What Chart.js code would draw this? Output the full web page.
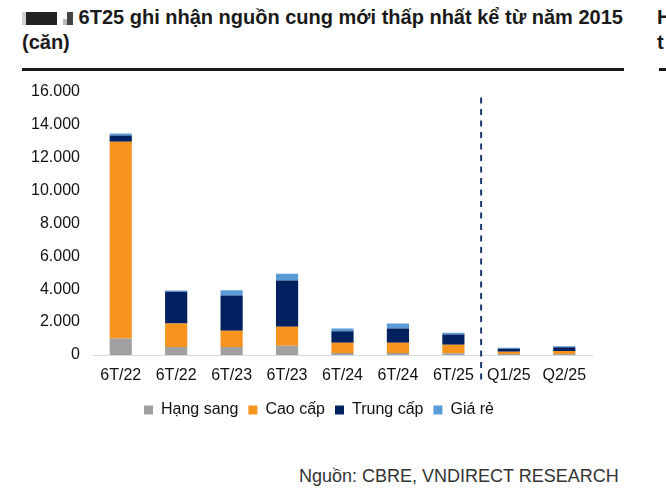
<!DOCTYPE html>
<html>
<head>
<meta charset="utf-8">
<script src="https://cdn.jsdelivr.net/npm/chart.js@4/dist/chart.umd.min.js"></script>
<style>
  body { margin: 0; background: #fff; width: 666px; height: 499px; overflow: hidden; position: relative; font-family: "Liberation Sans", Arial, sans-serif; }
  .title { position: absolute; left: 22px; top: 5px; width: 610px; font-family: "Liberation Sans Narrow", "Liberation Sans", Arial, sans-serif; font-weight: bold; font-size: 20px; line-height: 25px; color: #1a1a1a; }
  .mask { display: inline-block; vertical-align: -1px; height: 13px; }
  .rule { position: absolute; left: 22px; top: 68px; width: 602px; height: 3px; background: #1a1a1a; }
  .side { position: absolute; left: 657px; top: 5px; font-family: "Liberation Sans Narrow", "Liberation Sans", Arial, sans-serif; font-weight: bold; font-size: 20px; line-height: 25px; color: #1a1a1a; }
  .side-rule { position: absolute; left: 659px; top: 68px; width: 7px; height: 3px; background: #1a1a1a; }
  .source { position: absolute; left: 299px; top: 466px; font-size: 18px; color: #333; }
  #chartWrap { position: absolute; left: 0; top: 69px; width: 640px; height: 362px; }
</style>
</head>
<body>
<div class="title"><span class="mask" style="width:4px;background:#d0d0d0"></span><span class="mask" style="width:31px;background:#222"></span><span class="mask" style="width:6px;background:#fff"></span><span class="mask" style="width:4px;height:6px;background:#bbb"></span><span class="mask" style="width:6px;background:#444"></span> 6T25 ghi nhận nguồn cung mới thấp nhất kể từ năm 2015<br>(căn)</div>
<div class="rule"></div>
<div class="side">H<br>t</div>
<div class="side-rule"></div>
<div id="chartWrap"><canvas id="supplyChart"></canvas></div>
<div class="source">Nguồn: CBRE, VNDIRECT RESEARCH</div>

<script>
// Nguon cung moi (can) theo phan khuc
const categories = ['6T/22', '6T/22', '6T/23', '6T/23', '6T/24', '6T/24', '6T/25', 'Q1/25', 'Q2/25'];
const hangSang = [1000, 480, 480, 560, 120, 120, 110, 60, 60];
const caoCap = [11950, 1430, 990, 1150, 630, 630, 520, 130, 180];
const trungCap = [390, 1930, 2150, 2810, 700, 860, 620, 190, 230];
const giaRe = [120, 80, 320, 420, 160, 300, 100, 60, 60];
const yTicks = [0, 2000, 4000, 6000, 8000, 10000, 12000, 14000, 16000];

// dashed divider between half-year and quarter bars
const dividerPlugin = {
  id: 'divider',
  afterDatasetsDraw(chart) {
    const x = chart.scales.x;
    const y = chart.scales.y;
    const px = (x.getPixelForValue(6) + x.getPixelForValue(7)) / 2;
    const c = chart.ctx;
    c.save();
    c.strokeStyle = '#1f3a6e';
    c.lineWidth = 2;
    c.setLineDash([6, 5.5]);
    c.beginPath();
    c.moveTo(px, y.top + 6);
    c.lineTo(px, y.bottom + 27);
    c.stroke();
    c.restore();
  }
};

// legend sits a bit right of the canvas centre in the original
const legendShift = {
  id: 'legendShift',
  afterLayout(chart) {
    chart.legend.left += 23;
    chart.legend.right += 23;
  }
};

Chart.defaults.font.family = '"Liberation Sans", Arial, sans-serif';
Chart.defaults.color = '#111';

new Chart(document.getElementById('supplyChart'), {
  type: 'bar',
  data: {
    labels: categories,
    datasets: [
      { label: 'Hạng sang', data: hangSang, backgroundColor: '#a0a0a0' },
      { label: 'Cao cấp', data: caoCap, backgroundColor: '#f7941e' },
      { label: 'Trung cấp', data: trungCap, backgroundColor: '#002060' },
      { label: 'Giá rẻ', data: giaRe, backgroundColor: '#5b9bd5' }
    ]
  },
  options: {
    responsive: true,
    maintainAspectRatio: false,
    animation: false,
    categoryPercentage: 1,
    barPercentage: 0.4,
    layout: { padding: { left: 0, right: 48, top: 0, bottom: 3 } },
    plugins: {
      legend: {
        position: 'bottom',
        labels: { boxWidth: 9, boxHeight: 9, font: { size: 16 }, color: '#111', padding: 10 }
      },
      tooltip: { enabled: false }
    },
    scales: {
      x: {
        stacked: true,
        grid: { display: false, drawTicks: false },
        border: { color: '#d9d9d9', width: 1 },
        ticks: { font: { size: 16 }, padding: 11, maxRotation: 0, autoSkip: false },
        afterFit(scale) { scale.height = 37; }
      },
      y: {
        stacked: true,
        min: 0,
        max: 16000,
        grid: { display: false, drawTicks: false },
        border: { display: false },
        afterBuildTicks(scale) { scale.ticks = yTicks.map(v => ({ value: v })); },
        ticks: {
          font: { size: 16 },
          padding: 13,
          callback: v => v.toString().replace(/\B(?=(\d{3})+(?!\d))/g, '.')
        },
        afterFit(scale) { scale.width = 93; }
      }
    }
  },
  plugins: [dividerPlugin, legendShift]
});
</script>
</body>
</html>
